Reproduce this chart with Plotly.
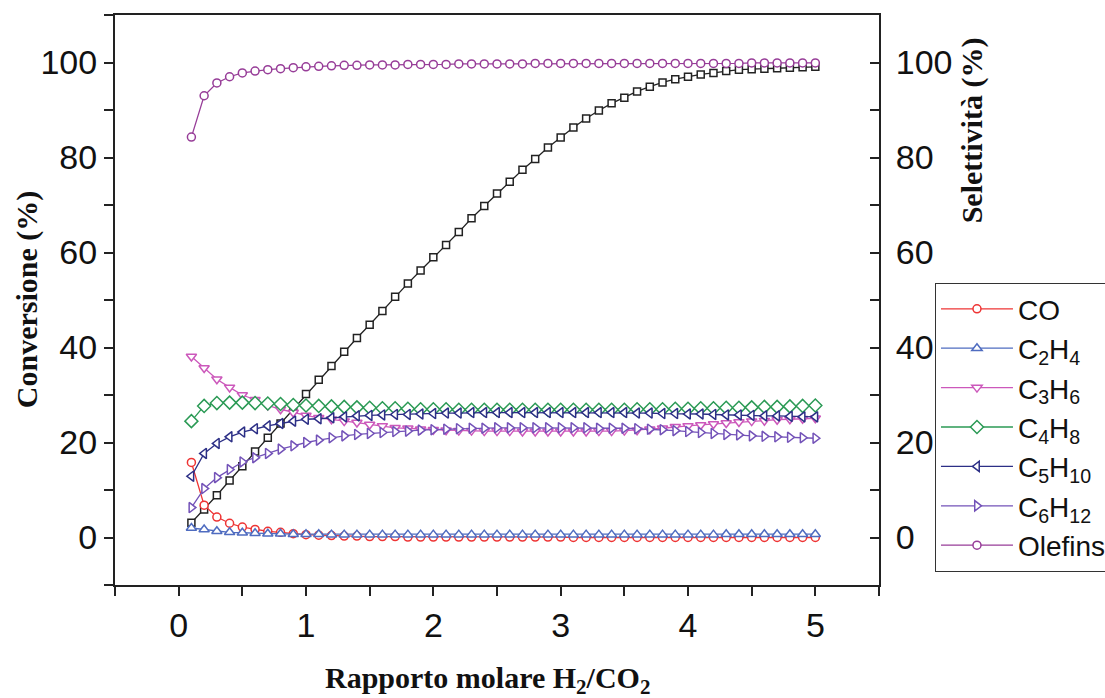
import plotly.graph_objects as go

ratio = [0.1, 0.2, 0.3, 0.4, 0.5, 0.6, 0.7, 0.8, 0.9, 1.0,
         1.1, 1.2, 1.3, 1.4, 1.5, 1.6, 1.7, 1.8, 1.9, 2.0,
         2.1, 2.2, 2.3, 2.4, 2.5, 2.6, 2.7, 2.8, 2.9, 3.0,
         3.1, 3.2, 3.3, 3.4, 3.5, 3.6, 3.7, 3.8, 3.9, 4.0,
         4.1, 4.2, 4.3, 4.4, 4.5, 4.6, 4.7, 4.8, 4.9, 5.0]

conv_co2 = [3.1, 5.9, 8.9, 12.0, 15.0, 18.1, 21.0, 24.0, 27.1, 30.2,
            33.2, 36.1, 39.1, 42.0, 44.8, 47.7, 50.7, 53.5, 56.2, 59.0,
            61.6, 64.3, 67.2, 69.8, 72.4, 74.9, 77.4, 79.7, 82.1, 84.2,
            86.3, 88.2, 89.9, 91.4, 92.6, 93.9, 94.9, 95.8, 96.5, 97.0,
            97.5, 97.8, 98.2, 98.5, 98.6, 98.7, 98.8, 98.9, 99.0, 99.1]

sel_co = [15.8, 6.8, 4.3, 3.0, 2.2, 1.7, 1.3, 1.1, 0.8, 0.6,
          0.5, 0.4, 0.3, 0.3, 0.2, 0.2, 0.2, 0.1, 0.1, 0.1,
          0.1, 0.1, 0.1, 0.1, 0.1, 0.1, 0.1, 0.1, 0.1, 0.1,
          0.0, 0.0, 0.0, 0.0, 0.0, 0.0, 0.0, 0.0, 0.0, 0.0,
          0.0, 0.0, 0.0, 0.0, 0.0, 0.0, 0.0, 0.0, 0.0, 0.0]

sel_c2h4 = [2.0, 1.7, 1.3, 1.1, 1.0, 0.9, 0.8, 0.8, 0.7, 0.7,
            0.7, 0.6, 0.6, 0.6, 0.6, 0.6, 0.6, 0.6, 0.6, 0.6,
            0.6, 0.6, 0.6, 0.6, 0.6, 0.6, 0.6, 0.6, 0.6, 0.6,
            0.6, 0.6, 0.6, 0.6, 0.6, 0.6, 0.6, 0.6, 0.6, 0.6,
            0.6, 0.6, 0.7, 0.7, 0.7, 0.7, 0.7, 0.7, 0.7, 0.7]

sel_c3h6 = [38.1, 35.7, 33.3, 31.6, 30.0, 29.0, 27.8, 27.0, 26.3, 25.7,
            25.2, 24.9, 24.5, 24.2, 23.8, 23.5, 23.1, 23.0, 22.8, 22.7,
            22.6, 22.5, 22.5, 22.4, 22.4, 22.4, 22.3, 22.3, 22.3, 22.3,
            22.3, 22.3, 22.4, 22.4, 22.5, 22.6, 22.8, 23.0, 23.3, 23.5,
            23.7, 23.9, 24.1, 24.3, 24.5, 24.6, 24.8, 24.9, 25.0, 25.1]

sel_c4h8 = [24.5, 27.7, 28.3, 28.4, 28.4, 28.3, 28.2, 28.1, 27.9, 27.8,
            27.7, 27.6, 27.5, 27.4, 27.3, 27.2, 27.2, 27.1, 27.0, 27.0,
            27.0, 26.9, 26.9, 26.9, 26.9, 26.9, 26.9, 26.9, 26.9, 26.9,
            26.9, 26.9, 26.9, 26.9, 26.9, 27.0, 27.0, 27.0, 27.1, 27.1,
            27.2, 27.2, 27.3, 27.3, 27.4, 27.5, 27.5, 27.6, 27.7, 27.8]

sel_c5h10 = [12.9, 17.7, 19.8, 21.2, 22.2, 22.9, 23.5, 24.0, 24.5, 24.9,
             25.0, 25.2, 25.4, 25.6, 25.7, 25.8, 25.9, 25.9, 26.0, 26.1,
             26.2, 26.2, 26.3, 26.3, 26.3, 26.3, 26.3, 26.3, 26.3, 26.3,
             26.3, 26.3, 26.3, 26.3, 26.3, 26.2, 26.2, 26.1, 26.1, 26.0,
             26.0, 25.9, 25.8, 25.8, 25.7, 25.6, 25.6, 25.5, 25.4, 25.4]

sel_c6h12 = [6.3, 10.3, 12.6, 14.3, 15.9, 16.8, 17.7, 18.6, 19.3, 20.0,
             20.5, 21.0, 21.4, 21.7, 21.9, 22.1, 22.3, 22.4, 22.6, 22.7,
             22.8, 22.9, 23.0, 23.0, 23.1, 23.1, 23.1, 23.1, 23.1, 23.1,
             23.1, 23.1, 23.0, 23.0, 23.0, 22.9, 22.8, 22.7, 22.5, 22.3,
             22.1, 21.9, 21.7, 21.6, 21.4, 21.3, 21.2, 21.1, 21.0, 20.9]

sel_olefins = [84.3, 93.0, 95.7, 97.0, 97.8, 98.2, 98.5, 98.7, 98.9, 99.1,
               99.2, 99.3, 99.4, 99.4, 99.5, 99.5, 99.5, 99.6, 99.6, 99.6,
               99.6, 99.7, 99.7, 99.7, 99.7, 99.7, 99.7, 99.8, 99.8, 99.8,
               99.8, 99.8, 99.8, 99.8, 99.8, 99.8, 99.8, 99.8, 99.8, 99.8,
               99.8, 99.8, 99.8, 99.8, 99.9, 99.9, 99.9, 99.9, 99.9, 99.9]

series_names = ["CO", "C<sub>2</sub>H<sub>4</sub>", "C<sub>3</sub>H<sub>6</sub>",
                "C<sub>4</sub>H<sub>8</sub>", "C<sub>5</sub>H<sub>10</sub>",
                "C<sub>6</sub>H<sub>12</sub>", "Olefins"]
series_values = [sel_co, sel_c2h4, sel_c3h6, sel_c4h8, sel_c5h10, sel_c6h12, sel_olefins]
series_colors = ["#ee3434", "#4f6cc0", "#cc58bb", "#2b9a55", "#2c2f86", "#7352b8", "#973d98"]
series_symbols = ["circle", "triangle-up", "triangle-down", "diamond",
                  "triangle-left", "triangle-right", "circle"]
series_sizes = [8, 9, 9, 10, 9, 9, 8]

fig = go.Figure()

fig.add_trace(go.Scatter(
    x=ratio, y=conv_co2, mode="lines+markers", showlegend=False,
    line=dict(color="#222222", width=1.3),
    marker=dict(symbol="square", size=7, color="white",
                line=dict(color="#222222", width=1.5)),
))

for name, vals, col, sym, sz in zip(series_names, series_values, series_colors,
                                    series_symbols, series_sizes):
    fig.add_trace(go.Scatter(
        x=ratio, y=vals, mode="lines+markers", name=name, legendgroup=name,
        yaxis="y2",
        line=dict(color=col, width=1.3),
        marker=dict(symbol=sym, size=sz, color="white",
                    line=dict(color=col, width=1.5)),
    ))

tick_font = dict(family="Liberation Sans, Arial, sans-serif", size=34, color="#111111")
title_font = dict(family="Liberation Serif, Times New Roman, serif", size=30, color="#111111")

fig.update_layout(
    width=1105, height=698,
    margin=dict(l=115, r=226, t=15, b=113, autoexpand=False),
    plot_bgcolor="white", paper_bgcolor="white",
    showlegend=True,
    legend=dict(
        x=1.073, y=0.53, xanchor="left", yanchor="top",
        bordercolor="#333333", borderwidth=1.2, bgcolor="white",
        font=dict(family="Liberation Sans, Arial, sans-serif", size=28, color="#111111"),
        itemwidth=72, tracegroupgap=0,
    ),
    xaxis=dict(
        range=[-0.5, 5.5], dtick=1, tick0=0,
        showline=True, linecolor="#222222", linewidth=2, mirror=True,
        ticks="outside", ticklen=9, tickwidth=2, tickcolor="#222222",
        minor=dict(dtick=0.5, tick0=0, ticks="outside", ticklen=9, tickwidth=2,
                   tickcolor="#222222", showgrid=False),
        showgrid=False, zeroline=False, tickfont=tick_font,
    ),
    yaxis=dict(
        range=[-10, 110], dtick=20, tick0=0,
        showline=True, linecolor="#222222", linewidth=2,
        ticks="outside", ticklen=9, tickwidth=2, tickcolor="#222222",
        minor=dict(dtick=10, tick0=0, ticks="outside", ticklen=9, tickwidth=2,
                   tickcolor="#222222", showgrid=False),
        showgrid=False, zeroline=False, tickfont=tick_font,
    ),
    yaxis2=dict(
        range=[-10, 110], dtick=20, tick0=0, overlaying="y", side="right",
        showline=True, linecolor="#222222", linewidth=2,
        ticks="inside", ticklen=9, tickwidth=2, tickcolor="#222222",
        minor=dict(dtick=10, tick0=0, ticks="inside", ticklen=9, tickwidth=2,
                   tickcolor="#222222", showgrid=False),
        showgrid=False, zeroline=False, tickfont=tick_font,
        ticklabelstandoff=8,
    ),
    annotations=[
        dict(text="<b>Conversione (%)</b>", xref="paper", yref="paper",
             x=-0.115, y=0.5, textangle=-90, showarrow=False,
             font=title_font, xanchor="center", yanchor="middle"),
        dict(text="<b>Selettività (%)</b>", xref="paper", yref="paper",
             x=1.122, y=0.798, textangle=-90, showarrow=False,
             font=title_font, xanchor="center", yanchor="middle"),
        dict(text="<b>Rapporto molare H<sub>2</sub>/CO<sub>2</sub></b>", xref="paper", yref="paper",
             x=0.488, y=-0.2035, showarrow=False, font=title_font,
             xanchor="center", yanchor="bottom"),
    ],
)

fig.write_html("out.html")
